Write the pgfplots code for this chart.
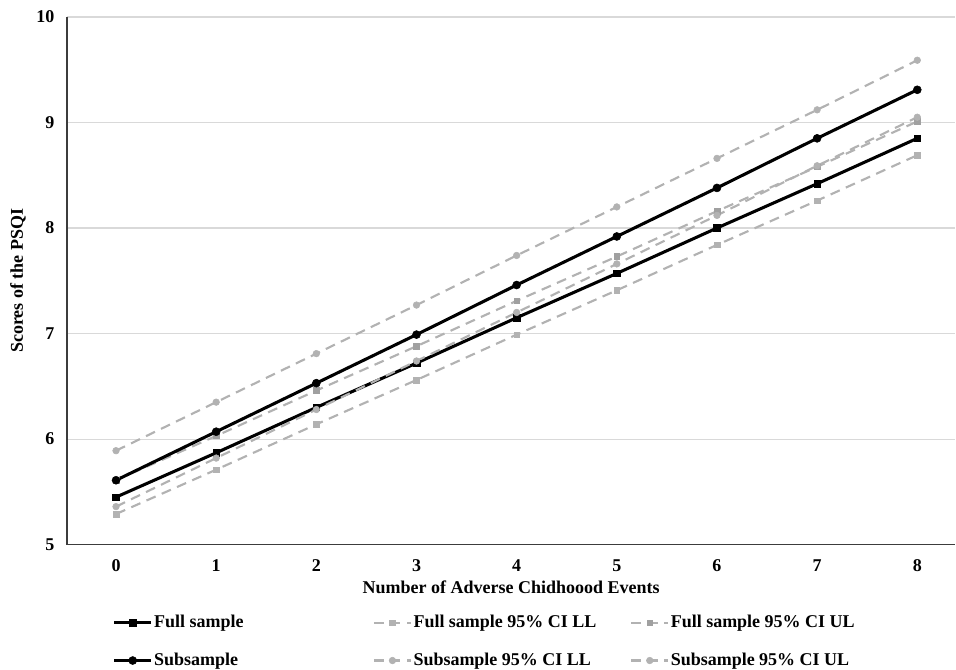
\documentclass[border=0pt]{standalone}
\usepackage{fontspec}
\setmainfont{Liberation Serif}
\usepackage{pgfplots}
\pgfplotsset{compat=1.18}
\definecolor{cigray}{RGB}{178,178,178}
\definecolor{cigrayd}{RGB}{160,160,160}
\definecolor{gridc}{RGB}{217,217,217}
\definecolor{axc}{RGB}{60,60,60}
\begin{document}
\begin{tikzpicture}
\begin{axis}[
  scale only axis,
  width=666.75pt, height=396pt,
  xmin=-0.49, xmax=8.38,
  ymin=5, ymax=10,
  xtick={0,...,8}, ytick={5,...,10},
  axis x line*=bottom, axis y line*=left,
  axis line style={-, axc, line width=1pt},
  major tick length=0pt,
  ymajorgrids, grid style={gridc, line width=0.8pt},
  /pgf/number format/assume math mode=true,
  tick label style={font=\fontsize{13.5}{15}\selectfont\bfseries},
  xticklabel style={yshift=-8pt},
  yticklabel style={xshift=-6pt},
  label style={font=\fontsize{13.5}{15}\selectfont\bfseries},
  xlabel={Number of Adverse Chidhoood Events},
  ylabel={Scores of the PSQI},
  xlabel style={yshift=0pt},
  ylabel style={yshift=1pt},
  legend columns=3,
  legend cell align=left,
  legend style={draw=none, fill=none, at={(0,0)}, anchor=north west, xshift=34pt, yshift=-52pt,
    font=\fontsize{13.5}{15}\selectfont\bfseries, row sep=15.5pt, inner sep=0pt,
    nodes={inner sep=1pt}},
  legend image code/.code={\draw[mark repeat=2,mark phase=2,#1] plot coordinates {(0pt,0pt) (14pt,0pt) (28pt,0pt)};},
]
\coordinate (topleft) at (rel axis cs:0,1);
\addplot[black, line width=2.3pt, mark=square*, mark size=2.5pt, mark options={solid, line width=0.4pt}] coordinates
 {(0,5.45) (1,5.87) (2,6.30) (3,6.72) (4,7.15) (5,7.57) (6,8.00) (7,8.42) (8,8.85)};
\addlegendentry{\makebox[163pt][l]{Full sample}}
\addplot[cigray, line width=1.6pt, dash pattern=on 7.5pt off 5pt, mark=square*, mark size=2.1pt, mark options={solid, line width=0.4pt}] coordinates
 {(0,5.29) (1,5.71) (2,6.14) (3,6.56) (4,6.99) (5,7.41) (6,7.84) (7,8.26) (8,8.69)};
\addlegendentry{\makebox[161.5pt][l]{Full sample 95\% CI LL}}
\addplot[cigray, line width=1.6pt, dash pattern=on 7.5pt off 5pt, mark=square*, mark size=2.1pt, mark options={solid, line width=0.4pt, fill=cigrayd, draw=cigrayd}] coordinates
 {(0,5.61) (1,6.03) (2,6.46) (3,6.88) (4,7.31) (5,7.73) (6,8.16) (7,8.58) (8,9.01)};
\addlegendentry{Full sample 95\% CI UL}
\addplot[black, line width=2.3pt, mark=*, mark size=3pt, mark options={solid, line width=0.4pt}] coordinates
 {(0,5.61) (1,6.07) (2,6.53) (3,6.99) (4,7.46) (5,7.92) (6,8.38) (7,8.85) (8,9.31)};
\addlegendentry{\makebox[163pt][l]{Subsample}}
\addplot[cigray, line width=1.6pt, dash pattern=on 7.5pt off 5pt, mark=*, mark size=2.5pt, mark options={solid, line width=0.4pt}] coordinates
 {(0,5.36) (1,5.82) (2,6.28) (3,6.74) (4,7.20) (5,7.66) (6,8.12) (7,8.59) (8,9.05)};
\addlegendentry{\makebox[161.5pt][l]{Subsample 95\% CI LL}}
\addplot[cigray, line width=1.6pt, dash pattern=on 7.5pt off 5pt, mark=*, mark size=2.5pt, mark options={solid, line width=0.4pt}] coordinates
 {(0,5.89) (1,6.35) (2,6.81) (3,7.27) (4,7.74) (5,8.20) (6,8.66) (7,9.12) (8,9.59)};
\addlegendentry{Subsample 95\% CI UL}
\end{axis}
\path (topleft) ++(-50.25pt,12.75pt);
\end{tikzpicture}
\end{document}
